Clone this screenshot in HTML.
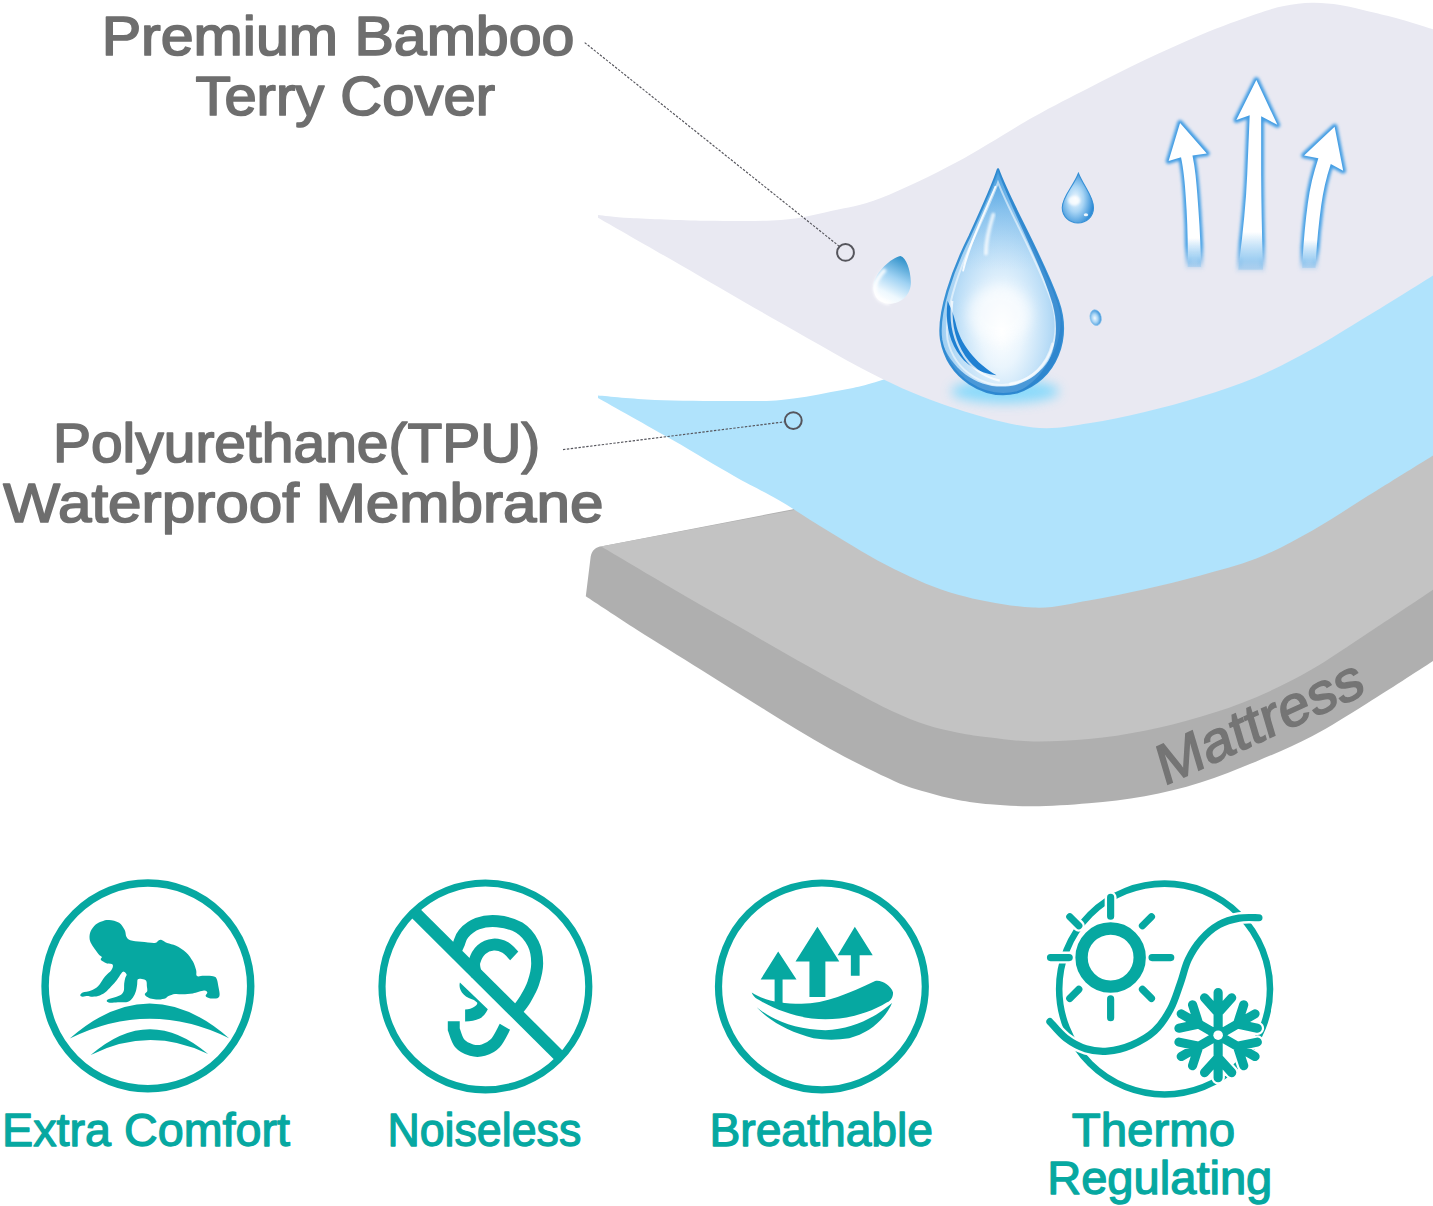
<!DOCTYPE html>
<html lang="en">
<head>
<meta charset="utf-8">
<title>Mattress protector layers</title>
<style>
html,body{margin:0;padding:0;background:#fff;}
body{width:1433px;height:1206px;overflow:hidden;font-family:"Liberation Sans",sans-serif;}
svg{display:block;}
text{font-family:"Liberation Sans",sans-serif;}
</style>
</head>
<body>
<svg width="1433" height="1206" viewBox="0 0 1433 1206">
<defs>

<radialGradient id="gBig" cx="0.5" cy="0.68" r="0.62" fx="0.5" fy="0.72">
<stop offset="0" stop-color="#ffffff"/><stop offset="0.28" stop-color="#eaf5fd"/><stop offset="0.6" stop-color="#bcdef7"/><stop offset="1" stop-color="#7dbcec"/>
</radialGradient>
<linearGradient id="gBigTop" x1="0" y1="0" x2="0" y2="1">
<stop offset="0" stop-color="#3b96da" stop-opacity="0.8"/><stop offset="0.18" stop-color="#5aa9e3" stop-opacity="0.3"/><stop offset="0.45" stop-color="#8cc4ee" stop-opacity="0"/>
</linearGradient>
<linearGradient id="gBigStroke" x1="0" y1="0" x2="0" y2="1">
<stop offset="0" stop-color="#2b86cd"/><stop offset="0.6" stop-color="#3a93d6"/><stop offset="1" stop-color="#2f8ad2"/>
</linearGradient>
<radialGradient id="gSmall" cx="0.42" cy="0.52" r="0.58">
<stop offset="0" stop-color="#f2f9ff"/><stop offset="0.45" stop-color="#a9d5f5"/><stop offset="1" stop-color="#2f8cd6"/>
</radialGradient>
<linearGradient id="gTilt" x1="0.75" y1="0" x2="0.35" y2="1">
<stop offset="0" stop-color="#2a8ec8"/><stop offset="0.45" stop-color="#9fd2f3"/><stop offset="0.8" stop-color="#eef8fe"/><stop offset="1" stop-color="#ffffff"/>
</linearGradient>
<linearGradient id="gArrow" x1="0" y1="0" x2="0" y2="1">
<stop offset="0" stop-color="#ffffff"/><stop offset="0.8" stop-color="#ffffff"/><stop offset="0.93" stop-color="#a9d5f5" stop-opacity="0.9"/><stop offset="1" stop-color="#7bbcec" stop-opacity="0.3"/>
</linearGradient>
<linearGradient id="gArrowGlow" x1="0" y1="0" x2="0" y2="1">
<stop offset="0" stop-color="#3f9be3"/><stop offset="0.85" stop-color="#4aa3e6"/><stop offset="1" stop-color="#4aa3e6" stop-opacity="0.1"/>
</linearGradient>
<filter id="blur2" x="-30%" y="-30%" width="160%" height="160%"><feGaussianBlur stdDeviation="7"/></filter>
<filter id="blur1" x="-30%" y="-30%" width="160%" height="160%"><feGaussianBlur stdDeviation="5"/></filter>
<filter id="blur6" x="-50%" y="-100%" width="200%" height="300%"><feGaussianBlur stdDeviation="28"/></filter>
<filter id="blurT" x="-30%" y="-30%" width="160%" height="160%"><feGaussianBlur stdDeviation="16"/></filter>
<filter id="blurA" x="-30%" y="-10%" width="160%" height="120%"><feGaussianBlur stdDeviation="3"/></filter>
<filter id="blurS" x="-30%" y="-30%" width="160%" height="160%"><feGaussianBlur stdDeviation="6"/></filter>

</defs>
<rect width="1433" height="1206" fill="#ffffff"/>

<path d="M602 546.3C596 547 592 550 590.7 556.5L585.8 596.3C594.4 601.9 617.9 617.7 637.2 630.0C656.5 642.3 680.0 656.6 701.4 670.0C722.8 683.4 744.2 697.2 765.6 710.3C787.0 723.4 808.4 737.0 829.8 748.8C851.2 760.6 878.0 773.7 894.0 780.9C910.0 788.1 915.3 788.8 926.0 792.0C936.7 795.2 947.3 798.0 958.0 800.0C968.7 802.0 977.8 803.2 990.3 804.3C1002.8 805.3 1016.6 806.5 1033.0 806.3C1049.4 806.1 1070.2 805.0 1088.8 803.3C1107.4 801.6 1126.1 799.8 1144.7 796.3C1163.3 792.8 1181.9 788.2 1200.5 782.4C1219.1 776.6 1237.7 769.1 1256.3 761.4C1274.9 753.7 1293.4 746.1 1312.0 736.3C1330.6 726.5 1347.8 715.3 1368.0 702.8C1388.2 690.2 1417.7 671.0 1433.0 661.0C1448.3 651.0 1455.5 646.0 1460.0 643.0L1460 380L1000 450L792 509.5Z" fill="#afafaf"/>
<path d="M602 546.3L793 510.2L1000 450L1460 380L1460.0 571.0C1455.5 574.1 1448.3 579.5 1433.0 589.8C1417.7 600.1 1388.2 619.8 1368.0 633.0C1347.8 646.2 1330.6 658.6 1312.0 669.3C1293.4 680.0 1274.9 689.3 1256.3 697.2C1237.7 705.1 1219.1 711.2 1200.5 716.8C1181.9 722.4 1163.3 727.0 1144.7 730.7C1126.1 734.4 1107.4 737.3 1088.8 739.1C1070.2 740.9 1049.4 741.8 1033.0 741.5C1016.6 741.2 1002.8 739.1 990.3 737.6C977.8 736.1 968.9 734.9 958.2 732.7C947.5 730.6 936.7 728.2 926.0 724.7C915.3 721.2 904.7 716.7 894.0 711.9C883.3 707.1 878.0 704.4 862.0 695.8C846.0 687.2 819.1 672.5 797.7 660.5C776.3 648.5 754.9 635.9 733.5 623.6C712.1 611.3 691.2 599.5 669.3 586.7C647.4 573.9 613.2 553.6 602.0 547.0Z" fill="#c3c3c3"/>
<path d="M598.0 395.6C607.5 396.3 632.9 399.1 655.0 400.0C677.1 400.9 709.8 401.0 730.8 401.0C751.8 401.0 764.3 401.5 781.0 400.0C797.7 398.5 814.7 395.2 831.0 392.0C847.3 388.8 857.5 388.0 879.0 381.0C900.5 374.0 923.2 365.2 960.0 350.0C996.8 334.8 1016.7 323.3 1100.0 290.0C1183.3 256.7 1400.0 173.3 1460.0 150.0L1460.0 438.0C1455.5 440.9 1448.3 445.8 1433.0 455.4C1417.7 465.0 1388.2 483.2 1368.0 495.8C1347.8 508.4 1330.6 520.2 1312.0 530.7C1293.4 541.2 1274.9 551.2 1256.3 558.6C1237.7 566.0 1219.1 570.3 1200.5 575.4C1181.9 580.5 1163.3 585.1 1144.7 589.3C1126.1 593.5 1107.4 597.5 1088.8 600.5C1070.2 603.5 1054.8 608.5 1033.0 607.5C1011.2 606.5 981.2 601.1 958.0 594.7C934.8 588.3 915.4 579.5 894.0 569.0C872.6 558.5 849.0 543.5 829.8 532.0C810.5 520.5 794.5 509.3 778.5 500.0C762.5 490.7 751.6 486.0 734.0 476.0C716.4 466.0 695.3 453.0 672.6 440.0C649.9 427.0 610.4 405.0 598.0 398.0Z" fill="#b0e3fc"/>
<path d="M598.0 215.0C603.3 215.5 612.2 217.1 630.0 218.0C647.8 218.9 679.8 220.4 705.0 220.7C730.2 221.0 760.0 221.6 781.0 220.0C802.0 218.4 814.3 214.7 831.0 211.0C847.7 207.3 860.0 206.2 881.0 198.0C902.0 189.8 931.7 175.5 957.0 162.0C982.3 148.5 1011.0 129.6 1033.0 117.2C1055.0 104.9 1070.2 97.4 1088.8 87.9C1107.4 78.4 1126.1 68.8 1144.7 60.0C1163.3 51.2 1181.9 42.6 1200.5 34.9C1219.1 27.2 1242.4 18.8 1256.3 14.0C1270.2 9.2 1274.7 8.0 1284.0 6.1C1293.3 4.2 1302.7 3.0 1312.0 2.8C1321.3 2.6 1330.7 3.6 1340.0 5.0C1349.3 6.4 1358.7 9.0 1368.0 11.2C1377.3 13.4 1385.2 15.1 1396.0 18.1C1406.8 21.1 1422.3 26.0 1433.0 29.3C1443.7 32.6 1455.5 36.5 1460.0 38.0L1460.0 258.0C1455.5 260.9 1448.3 265.8 1433.0 275.4C1417.7 285.0 1388.2 303.5 1368.0 315.8C1347.8 328.1 1330.6 339.1 1312.0 349.3C1293.4 359.5 1274.9 369.3 1256.3 377.2C1237.7 385.1 1219.1 391.0 1200.5 396.8C1181.9 402.6 1163.3 407.6 1144.7 412.0C1126.1 416.4 1107.4 420.7 1088.8 423.3C1070.2 425.9 1055.0 429.9 1033.0 427.5C1011.0 425.1 982.2 417.2 957.0 409.0C931.8 400.8 910.8 392.8 881.5 378.5C852.2 364.2 814.5 341.9 781.0 323.0C747.5 304.1 711.0 282.6 680.5 265.0C650.0 247.4 611.8 225.6 598.0 217.7Z" fill="#e9e9f2"/>


<g transform="translate(920 150) scale(0.21552)">
<ellipse cx="395" cy="1120" rx="250" ry="55" fill="#63d4ff" opacity="0.7" filter="url(#blur6)" transform="scale(1)"/>
<path d="M362 90C420 250 560 480 640 700C700 870 640 1060 450 1125C300 1160 130 1060 98 880C80 760 150 560 230 400C290 270 340 160 362 90Z" fill="url(#gBig)" stroke="url(#gBigStroke)" stroke-width="11" stroke-linejoin="round"/>
<path d="M362 90C420 250 560 480 640 700C700 870 640 1060 450 1125C300 1160 130 1060 98 880C80 760 150 560 230 400C290 270 340 160 362 90Z" fill="url(#gBigTop)"/>
<path d="M98 880C130 1060 300 1160 450 1125C600 1080 690 900 650 760C665 900 590 1045 445 1090C300 1125 150 1040 98 880Z" fill="#2c86cf" opacity="0.8"/>
<path d="M362 150C420 300 540 500 610 700C660 860 610 1020 450 1080C310 1120 160 1030 128 880C110 770 170 580 245 420C300 300 345 200 362 150Z" fill="none" stroke="#ffffff" stroke-opacity="0.55" stroke-width="9"/>
<path d="M350 170C300 290 235 420 200 560C215 470 290 310 350 170Z" fill="#ffffff" opacity="0.9" stroke="#ffffff" stroke-width="8" stroke-linejoin="round"/>
<path d="M340 300C318 370 306 430 306 480" fill="none" stroke="#ffffff" stroke-width="18" stroke-linecap="round" opacity="0.75" filter="url(#blurS)"/>
<path d="M128 700C105 880 190 1030 355 1045C260 990 185 900 165 800C155 760 142 730 128 700Z" fill="#1f80d2"/>
<path d="M362 90C420 250 560 480 640 700C700 870 640 1060 450 1125C610 1040 660 880 615 715C560 520 430 300 362 90Z" fill="#2b84cc" opacity="0.85"/>
<path d="M150 700C130 860 200 1030 370 1070" fill="none" stroke="#ffffff" stroke-width="10" opacity="0.75"/>
<path d="M420 1085C520 1070 590 1000 615 900" fill="none" stroke="#ffffff" stroke-width="14" opacity="0.55" stroke-linecap="round"/>
<ellipse cx="370" cy="760" rx="150" ry="130" fill="#ffffff" opacity="0.55" filter="url(#blur6)"/>
<path d="M735 108C760 170 805 215 805 268C805 308 773 338 733 338C693 338 660 308 660 268C660 215 712 170 735 108Z" fill="url(#gSmall)" stroke="#3690d6" stroke-width="5"/>
<ellipse cx="715" cy="235" rx="28" ry="22" fill="#ffffff" opacity="0.8" filter="url(#blurS)"/>
<ellipse cx="770" cy="300" rx="10" ry="7" fill="#ffffff" opacity="0.9"/>
<ellipse cx="815" cy="778" rx="26" ry="37" fill="url(#gSmall)" transform="rotate(-12 815 778)" stroke="#8ec4ee" stroke-width="3"/>
</g>
<g transform="translate(820 230) scale(0.08375)">
<path d="M960 310C1030 330 1080 470 1085 620C1090 760 980 880 830 880C700 880 620 780 640 640C670 500 850 330 960 310Z" fill="url(#gTilt)"/>
<path d="M780 470C690 560 640 650 660 740C680 820 750 870 830 875" fill="none" stroke="#ffffff" stroke-width="46" opacity="0.95" filter="url(#blurT)"/>
</g>

<g transform="translate(1140 60) scale(0.19078)">
<path d="M210 330L350 490L275 500C290 570 295 640 300 700C310 830 318 950 320 1085L250 1085C252 950 248 830 240 720C236 650 228 570 215 510L150 530Z" fill="url(#gArrowGlow)" stroke="url(#gArrowGlow)" stroke-width="30" stroke-linejoin="round" filter="url(#blur2)"/>
<path d="M610 105L720 340L635 295L635 600C636 770 640 940 645 1100L515 1100C535 940 555 770 562 600L575 290L505 315Z" fill="url(#gArrowGlow)" stroke="url(#gArrowGlow)" stroke-width="30" stroke-linejoin="round" filter="url(#blur2)"/>
<path d="M1020 350L1065 580L1000 545C975 620 960 690 950 760C935 870 925 980 920 1090L850 1090C855 980 865 860 880 750C890 670 910 590 935 515L860 500Z" fill="url(#gArrowGlow)" stroke="url(#gArrowGlow)" stroke-width="30" stroke-linejoin="round" filter="url(#blur2)"/>
<path d="M210 330L350 490L275 500C290 570 295 640 300 700C310 830 318 950 320 1085L250 1085C252 950 248 830 240 720C236 650 228 570 215 510L150 530Z" fill="url(#gArrow)" filter="url(#blurA)"/>
<path d="M610 105L720 340L635 295L635 600C636 770 640 940 645 1100L515 1100C535 940 555 770 562 600L575 290L505 315Z" fill="url(#gArrow)" filter="url(#blurA)"/>
<path d="M1020 350L1065 580L1000 545C975 620 960 690 950 760C935 870 925 980 920 1090L850 1090C855 980 865 860 880 750C890 670 910 590 935 515L860 500Z" fill="url(#gArrow)" filter="url(#blurA)"/>
</g>


<g fill="none" stroke="#55555c">
<line x1="584.7" y1="42.6" x2="839.4" y2="246.4" stroke-width="1.15" stroke-dasharray="2.4 1.5"/>
<circle cx="845.5" cy="252.4" r="8.4" stroke-width="2"/>
<line x1="563" y1="449.6" x2="784.9" y2="421.8" stroke-width="1.15" stroke-dasharray="2.4 1.5"/>
<circle cx="793.3" cy="420.6" r="8.4" stroke-width="2"/>
</g>

<text x="101.7" y="55.1" font-size="55" font-weight="normal" fill="#6e6e6e" stroke="#6e6e6e" stroke-width="1.7" stroke-linejoin="round" textLength="472.7" lengthAdjust="spacingAndGlyphs">Premium Bamboo</text>
<text x="195.4" y="115.2" font-size="55" font-weight="normal" fill="#6e6e6e" stroke="#6e6e6e" stroke-width="1.7" stroke-linejoin="round" textLength="299.6" lengthAdjust="spacingAndGlyphs">Terry Cover</text>
<text x="53.0" y="462.4" font-size="56" font-weight="normal" fill="#6e6e6e" stroke="#6e6e6e" stroke-width="1.7" stroke-linejoin="round" textLength="487.2" lengthAdjust="spacingAndGlyphs">Polyurethane(TPU)</text>
<text x="3.3" y="522.2" font-size="56" font-weight="normal" fill="#6e6e6e" stroke="#6e6e6e" stroke-width="1.7" stroke-linejoin="round" textLength="600.2" lengthAdjust="spacingAndGlyphs">Waterproof Membrane</text>
<text x="2.1" y="1145.6" font-size="47" font-weight="normal" fill="#06a8a1" stroke="#06a8a1" stroke-width="1.3" stroke-linejoin="round" textLength="287.9" lengthAdjust="spacingAndGlyphs">Extra Comfort</text>
<text x="387.4" y="1145.6" font-size="47" font-weight="normal" fill="#06a8a1" stroke="#06a8a1" stroke-width="1.3" stroke-linejoin="round" textLength="193.9" lengthAdjust="spacingAndGlyphs">Noiseless</text>
<text x="709.4" y="1145.6" font-size="47" font-weight="normal" fill="#06a8a1" stroke="#06a8a1" stroke-width="1.3" stroke-linejoin="round" textLength="223.7" lengthAdjust="spacingAndGlyphs">Breathable</text>
<text x="1071.7" y="1145.6" font-size="47" font-weight="normal" fill="#06a8a1" stroke="#06a8a1" stroke-width="1.3" stroke-linejoin="round" textLength="163.4" lengthAdjust="spacingAndGlyphs">Thermo</text>
<text x="1047.2" y="1193.5" font-size="47" font-weight="normal" fill="#06a8a1" stroke="#06a8a1" stroke-width="1.3" stroke-linejoin="round" textLength="225.1" lengthAdjust="spacingAndGlyphs">Regulating</text>
<text transform="translate(1163.5 786.2) rotate(-24.5) skewX(-8)" font-size="56" fill="#757575" stroke="#757575" stroke-width="1.5" textLength="223" lengthAdjust="spacingAndGlyphs">Mattress</text>


<circle cx="147.9" cy="985.9" r="102.8" fill="none" stroke="#06a8a1" stroke-width="7.5"/>
<path transform="translate(70 910) scale(0.11165)" d="M350.0 90.0C375.0 92.5 416.7 100.0 440.0 115.0C463.3 130.0 479.2 159.2 490.0 180.0C500.8 200.8 496.7 225.0 505.0 240.0C513.3 255.0 517.5 262.5 540.0 270.0C562.5 277.5 603.3 280.8 640.0 285.0C676.7 289.2 735.0 296.7 760.0 295.0C785.0 293.3 780.0 279.5 790.0 275.0C800.0 270.5 806.7 264.7 820.0 268.0C833.3 271.3 848.3 286.3 870.0 295.0C891.7 303.7 921.7 305.8 950.0 320.0C978.3 334.2 1015.0 356.7 1040.0 380.0C1065.0 403.3 1085.0 433.3 1100.0 460.0C1115.0 486.7 1123.8 518.0 1130.0 540.0C1136.2 562.0 1125.3 583.7 1137.0 592.0C1148.7 600.3 1174.5 589.5 1200.0 590.0C1225.5 590.5 1270.8 590.0 1290.0 595.0C1309.2 600.0 1308.3 604.2 1315.0 620.0C1321.7 635.8 1325.8 666.7 1330.0 690.0C1334.2 713.3 1341.7 743.3 1340.0 760.0C1338.3 776.7 1335.0 785.0 1320.0 790.0C1305.0 795.0 1267.5 793.3 1250.0 790.0C1232.5 786.7 1218.3 778.3 1215.0 770.0C1211.7 761.7 1232.5 748.0 1230.0 740.0C1227.5 732.0 1221.7 720.7 1200.0 722.0C1178.3 723.3 1131.7 742.5 1100.0 748.0C1068.3 753.5 1036.6 754.3 1010.0 755.0C983.4 755.7 961.7 749.3 940.4 752.0C919.1 754.6 896.2 764.5 882.3 770.7C868.4 777.0 871.9 784.2 857.3 789.5C842.7 794.7 815.6 800.9 794.8 802.0C774.0 803.0 750.0 799.9 732.3 795.7C714.6 791.5 699.0 784.2 688.5 777.0C678.1 769.7 669.3 760.3 669.8 752.0C670.3 743.6 688.5 738.4 691.7 727.0C694.8 715.5 690.1 698.8 688.5 683.2C687.0 667.6 689.6 644.1 682.3 633.2C675.0 622.3 657.3 619.7 644.8 617.6C632.3 615.5 614.6 611.8 607.3 620.7C600.0 629.6 604.2 652.0 601.0 670.7C597.9 689.5 594.8 714.5 588.5 733.2C582.3 752.0 575.0 768.6 563.5 783.2C552.1 797.8 539.6 813.4 519.8 820.7C500.0 828.0 469.8 825.4 444.8 827.0C419.8 828.5 388.6 831.1 369.8 830.1C351.1 829.0 337.5 825.4 332.3 820.7C327.1 816.0 328.1 808.2 338.6 802.0C349.0 795.7 375.0 790.5 394.8 783.2C414.6 775.9 442.7 768.6 457.3 758.2C471.9 747.8 477.6 737.4 482.3 720.7C487.0 704.0 483.3 677.0 485.4 658.2C487.5 639.5 491.2 621.7 494.8 608.2C498.4 594.7 509.4 586.3 507.3 577.0C505.2 567.6 490.6 553.0 482.3 552.0C474.0 550.9 467.7 558.2 457.3 570.7C446.9 583.2 434.4 608.2 419.8 627.0C405.2 645.7 387.5 664.5 369.8 683.2C352.1 702.0 333.3 724.9 313.6 739.5C293.8 754.0 271.9 764.5 251.1 770.7C230.2 777.0 204.2 777.0 188.6 777.0C172.9 777.0 169.8 770.7 157.3 770.7C144.8 770.7 124.5 778.0 113.5 777.0C102.6 775.9 91.7 770.7 91.7 764.5C91.7 758.2 97.4 746.7 113.5 739.5C129.7 732.2 165.6 730.1 188.6 720.7C211.5 711.3 230.2 704.0 251.1 683.2C271.9 662.4 293.8 619.7 313.6 595.7C333.3 571.7 358.3 557.2 369.8 539.5C381.3 521.7 389.6 499.9 382.3 489.4C375.0 479.0 343.8 484.2 326.1 476.9C308.3 469.7 282.9 455.2 276.1 445.7C269.2 436.2 287.7 427.6 285.0 420.0C282.3 412.4 269.2 410.0 260.0 400.0C250.8 390.0 241.7 376.7 230.0 360.0C218.3 343.3 199.2 318.3 190.0 300.0C180.8 281.7 175.8 268.3 175.0 250.0C174.2 231.7 175.8 210.0 185.0 190.0C194.2 170.0 212.5 145.0 230.0 130.0C247.5 115.0 270.0 106.7 290.0 100.0C310.0 93.3 325.0 87.5 350.0 90.0Z" fill="#06a8a1"/>
<g transform="translate(20 860) scale(0.19908)" fill="#06a8a1">
<path d="M250 897Q650 545 1050 895Q650 699 250 897Z"/>
<path d="M355 980Q650 722 945 975Q650 832 355 980Z"/>
</g>

<circle cx="485.4" cy="986.4" r="103.4" fill="none" stroke="#06a8a1" stroke-width="7.2"/>
<g transform="translate(360 860) scale(0.19908)" fill="none" stroke="#06a8a1" stroke-width="60">
<path d="M478.0 462.0C480.8 455.8 488.0 440.3 495.0 425.0C502.0 409.7 504.2 387.5 520.0 370.0C535.8 352.5 561.7 330.3 590.0 320.0C618.3 309.7 655.0 304.7 690.0 308.0C725.0 311.3 770.0 321.3 800.0 340.0C830.0 358.7 855.0 390.0 870.0 420.0C885.0 450.0 890.0 486.7 890.0 520.0C890.0 553.3 880.0 590.0 870.0 620.0C860.0 650.0 843.3 677.5 830.0 700.0C816.7 722.5 796.7 745.8 790.0 755.0"/>
<path d="M775.0 482.0C767.5 475.0 747.5 449.5 730.0 440.0C712.5 430.5 690.0 423.3 670.0 425.0C650.0 426.7 625.8 435.8 610.0 450.0C594.2 464.2 580.3 492.3 575.0 510.0C569.7 527.7 575.8 544.7 578.0 556.0C580.2 567.3 586.3 574.3 588.0 578.0"/>
<path d="M471 810L471 850C475.8 861.7 485.2 902.5 500.0 920.0C514.8 937.5 540.0 949.2 560.0 955.0C580.0 960.8 600.0 960.8 620.0 955.0C640.0 949.2 662.0 939.5 680.0 920.0C698.0 900.5 720.0 851.7 728.0 838.0"/>
<line x1="268" y1="256" x2="998" y2="981" stroke-width="62"/>
<path d="M502 615L642 750C630 775 615 790 602 796C580 806 555 810 528 811L528 751C548 750 562 746 570 740C585 732 592 722 588 716C580 708 572 702 562 699C540 692 522 680 512 665C502 650 497 632 502 615Z" fill="#06a8a1" stroke="none"/>
</g>

<circle cx="821.9" cy="986.4" r="103.4" fill="none" stroke="#06a8a1" stroke-width="7.2"/>
<g transform="translate(690 860) scale(0.19908)" fill="#06a8a1">
<path d="M443 460L535 600L465 600L465 725L425 725L425 600L355 600Z"/>
<path d="M640 335L750 510L680 510L680 688L600 688L600 510L530 510Z"/>
<path d="M828 335L918 478L852 478L852 582L808 582L808 478L742 478Z"/>
<path d="M310 665C370 705 450 722 560 722C680 722 800 670 930 608C960 600 1010 630 1020 665C1020 690 1010 705 990 715C900 770 790 800 680 800C560 800 440 760 340 700C325 690 315 678 310 665Z"/>
<path d="M335 740C420 810 540 852 680 855C820 850 930 790 1015 718C980 800 900 870 800 895C740 905 680 905 620 895C500 865 400 810 335 740Z"/>
</g>

<g transform="translate(1030 860) scale(0.19908)" fill="none" stroke-linecap="round" stroke-linejoin="round">
<circle cx="676" cy="648" r="529.5" stroke="#06a8a1" stroke-width="33"/>
<g stroke="#ffffff">
<circle cx="405" cy="490" r="146" stroke-width="86"/>
<path d="M613.0 490.0L707.0 490.0M564.8 330.2L610.1 284.9M405.0 282.0L405.0 188.0M245.2 330.2L199.9 284.9M197.0 490.0L103.0 490.0M245.2 649.8L199.9 695.1M405.0 698.0L405.0 792.0M564.8 649.8L610.1 695.1" stroke-width="60"/>
<path d="M1150.0 290.0C1133.3 290.3 1083.3 286.2 1050.0 292.0C1016.7 297.8 981.7 307.0 950.0 325.0C918.3 343.0 885.8 370.8 860.0 400.0C834.2 429.2 812.5 463.3 795.0 500.0C777.5 536.7 770.0 578.3 755.0 620.0C740.0 661.7 726.7 710.0 705.0 750.0C683.3 790.0 657.5 830.0 625.0 860.0C592.5 890.0 549.2 913.3 510.0 930.0C470.8 946.7 428.3 957.0 390.0 960.0C351.7 963.0 315.0 958.8 280.0 948.0C245.0 937.2 210.0 917.7 180.0 895.0C150.0 872.3 113.3 825.8 100.0 812.0" stroke-width="60"/>
<path d="M945.0 880.0L1130.3 773.0M1042.0 824.0L1141.8 845.2M1042.0 824.0L1073.5 727.0M945.0 880.0L945.0 666.0M945.0 768.0L1013.3 692.2M945.0 768.0L876.7 692.2M945.0 880.0L759.7 773.0M848.0 824.0L816.5 727.0M848.0 824.0L748.2 845.2M945.0 880.0L759.7 987.0M848.0 936.0L748.2 914.8M848.0 936.0L816.5 1033.0M945.0 880.0L945.0 1094.0M945.0 992.0L876.7 1067.8M945.0 992.0L1013.3 1067.8M945.0 880.0L1130.3 987.0M1042.0 936.0L1073.5 1033.0M1042.0 936.0L1141.8 914.8" stroke-width="68"/>
</g>
<g stroke="#06a8a1">
<circle cx="405" cy="490" r="146" stroke-width="62"/>
<path d="M613.0 490.0L707.0 490.0M564.8 330.2L610.1 284.9M405.0 282.0L405.0 188.0M245.2 330.2L199.9 284.9M197.0 490.0L103.0 490.0M245.2 649.8L199.9 695.1M405.0 698.0L405.0 792.0M564.8 649.8L610.1 695.1" stroke-width="36"/>
<path d="M1150.0 290.0C1133.3 290.3 1083.3 286.2 1050.0 292.0C1016.7 297.8 981.7 307.0 950.0 325.0C918.3 343.0 885.8 370.8 860.0 400.0C834.2 429.2 812.5 463.3 795.0 500.0C777.5 536.7 770.0 578.3 755.0 620.0C740.0 661.7 726.7 710.0 705.0 750.0C683.3 790.0 657.5 830.0 625.0 860.0C592.5 890.0 549.2 913.3 510.0 930.0C470.8 946.7 428.3 957.0 390.0 960.0C351.7 963.0 315.0 958.8 280.0 948.0C245.0 937.2 210.0 917.7 180.0 895.0C150.0 872.3 113.3 825.8 100.0 812.0" stroke-width="36"/>
<path d="M945.0 880.0L1130.3 773.0M1042.0 824.0L1141.8 845.2M1042.0 824.0L1073.5 727.0M945.0 880.0L945.0 666.0M945.0 768.0L1013.3 692.2M945.0 768.0L876.7 692.2M945.0 880.0L759.7 773.0M848.0 824.0L816.5 727.0M848.0 824.0L748.2 845.2M945.0 880.0L759.7 987.0M848.0 936.0L748.2 914.8M848.0 936.0L816.5 1033.0M945.0 880.0L945.0 1094.0M945.0 992.0L876.7 1067.8M945.0 992.0L1013.3 1067.8M945.0 880.0L1130.3 987.0M1042.0 936.0L1073.5 1033.0M1042.0 936.0L1141.8 914.8" stroke-width="46"/>
</g>
<circle cx="945" cy="880" r="24" fill="#ffffff"/>
</g>

</svg>
</body>
</html>
